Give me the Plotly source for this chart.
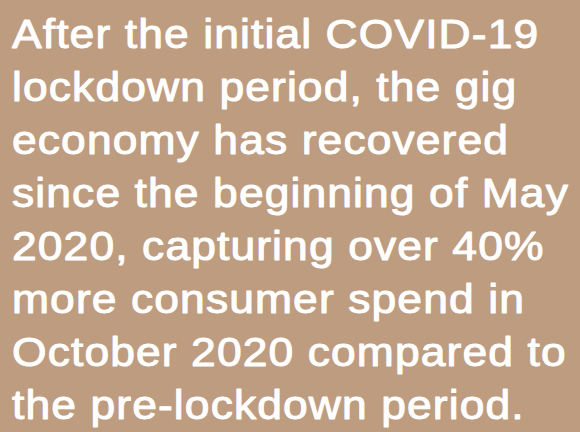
import plotly.graph_objects as go

lines = [
    "After the initial COVID-19",
    "lockdown period, the gig",
    "economy has recovered",
    "since the beginning of May",
    "2020, capturing over 40%",
    "more consumer spend in",
    "October 2020 compared to",
    "the pre-lockdown period.",
]

W, H = 580, 432
bg = "#BD9C80"
first_center = 34
pitch = 53.0
left = 10
font_size = 40

fig = go.Figure()
for i, t in enumerate(lines):
    fig.add_annotation(
        x=left / W, y=1 - (first_center + pitch * i) / H,
        xref="paper", yref="paper", xanchor="left", yanchor="middle",
        text=t, showarrow=False, align="left",
        font=dict(family="Liberation Sans, Arial, sans-serif", size=font_size, color="white"),
    )

fig.update_layout(
    width=W, height=H, margin=dict(l=0, r=0, t=0, b=0),
    paper_bgcolor=bg, plot_bgcolor=bg,
    xaxis=dict(visible=False, range=[0, 1]), yaxis=dict(visible=False, range=[0, 1]),
    showlegend=False,
)
fig.write_html(
    "out.html",
    config={"displayModeBar": False},
    post_script=(
        "document.body.style.margin='0';document.body.style.background='" + bg + "';"
        "document.querySelectorAll('.annotation-text').forEach(function(e){"
        "e.style.letterSpacing='1px';e.style.stroke='white';e.style.strokeWidth='1.0px';"
        "e.style.strokeLinejoin='round';"
        "var b=e.getBBox();var x0=b.x;var s=1.11;"
        "var old=e.getAttribute('transform')||'';"
        "e.setAttribute('transform',old+' translate('+x0+',0) scale('+s+',1) translate('+(-x0)+',0)');"
        "});"
    ),
)
